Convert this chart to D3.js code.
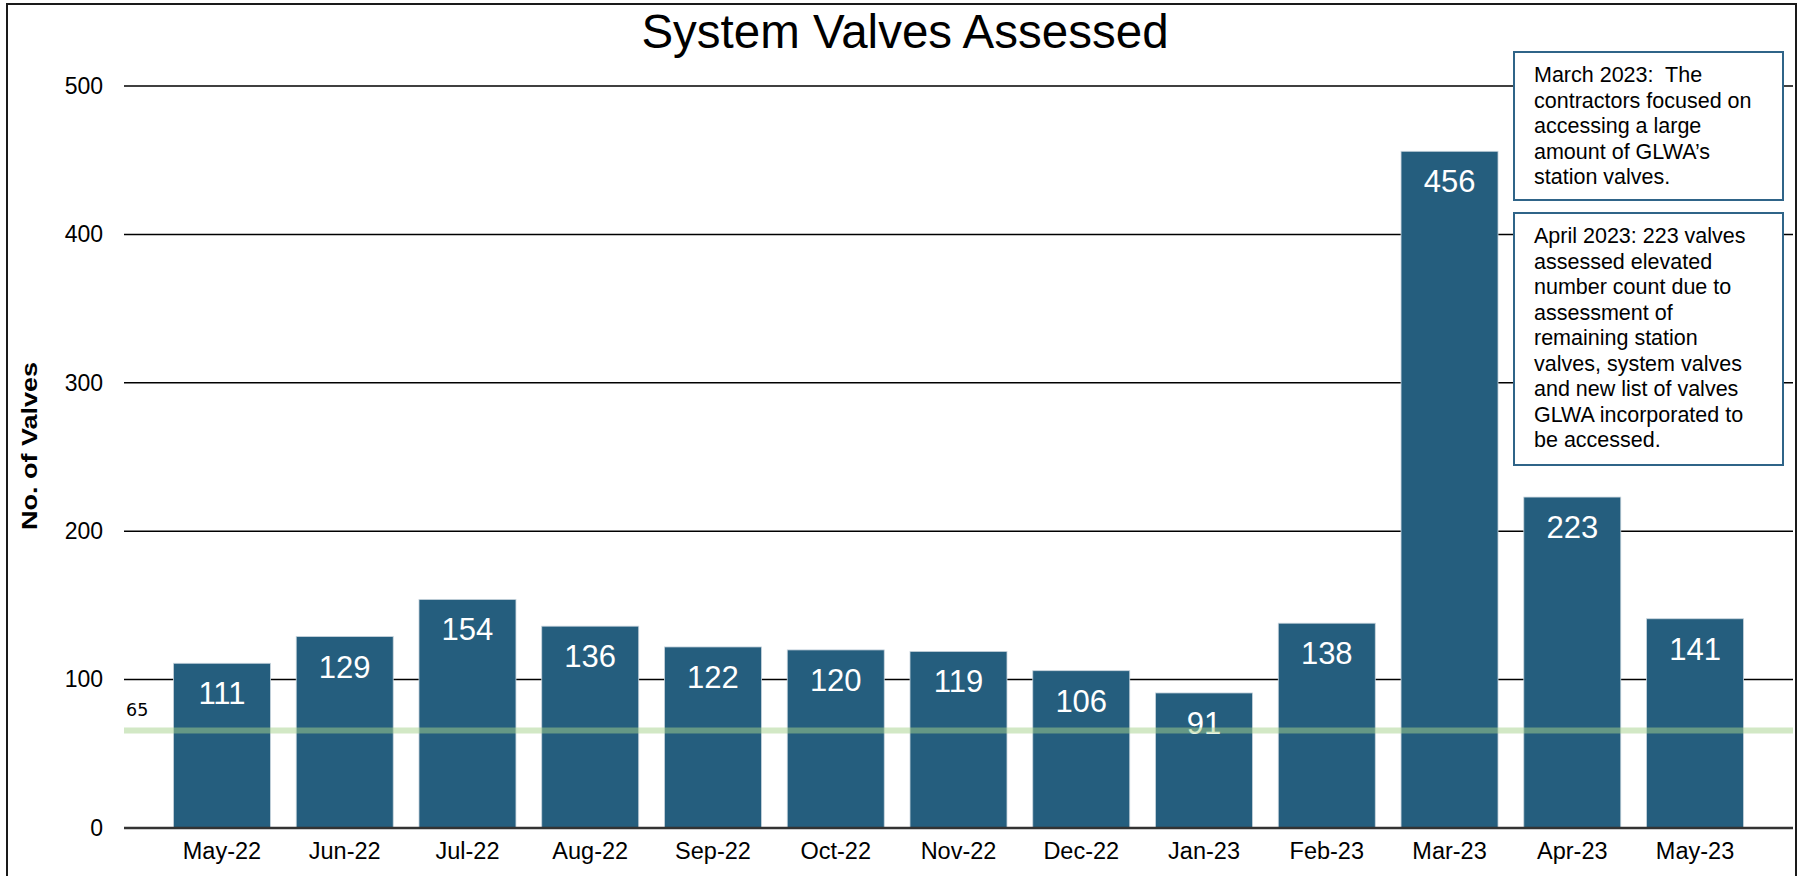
<!DOCTYPE html>
<html>
<head>
<meta charset="utf-8">
<script src="https://cdn.jsdelivr.net/npm/d3@7"></script>
<style>
  html, body { margin: 0; padding: 0; background: #fff; }
  svg { display: block; font-family: Arial, "Liberation Sans", sans-serif; }
</style>
</head>
<body>
<svg id="chart" width="1804" height="876"></svg>
<script>
const title = "System Valves Assessed";
const yAxisTitle = "No. of Valves";
const months = ["May-22","Jun-22","Jul-22","Aug-22","Sep-22","Oct-22","Nov-22","Dec-22","Jan-23","Feb-23","Mar-23","Apr-23","May-23"];
const valves = [111,129,154,136,122,120,119,106,91,138,456,223,141];
const yTicks = [0,100,200,300,400,500];
const targetValue = 65;
const note1 = ["March 2023:  The","contractors focused on","accessing a large","amount of GLWA\u2019s","station valves."];
const note2 = ["April 2023: 223 valves","assessed elevated","number count due to","assessment of","remaining station","valves, system valves","and new list of valves","GLWA incorporated to","be accessed."];

(function () {
const svg = d3.select("#chart");
const pLeft = 124, pRight = 1793, pTop = 86, pBottom = 828;

// frame
svg.append("rect").attr("x", 7).attr("y", 4).attr("width", 1789).attr("height", 880)
  .attr("fill", "none").attr("stroke", "#1a1a1a").attr("stroke-width", 2);

const x = d3.scaleBand().domain(months).range([pLeft, pRight]).paddingInner(0.21).paddingOuter(0.403);
const y = d3.scaleLinear().domain([0, 500]).range([pBottom, pTop]);

// gridlines
svg.append("g").selectAll("line").data(yTicks.filter(d => d > 0)).join("line")
  .attr("x1", pLeft).attr("x2", pRight)
  .attr("y1", d => y(d)).attr("y2", d => y(d))
  .attr("stroke", "#000").attr("stroke-width", 1.5);

// y axis labels
const yAxis = d3.axisLeft(y).tickValues(yTicks).tickSize(0).tickPadding(21);
const gy = svg.append("g").attr("transform", `translate(${pLeft},0)`).call(yAxis);
gy.select(".domain").remove();
gy.selectAll("text").attr("font-size", 23).attr("fill", "#000")
  .attr("font-family", "Arial, 'Liberation Sans', sans-serif");

// bars
svg.append("g").selectAll("rect").data(valves).join("rect")
  .attr("x", (d, i) => x(months[i]))
  .attr("width", x.bandwidth())
  .attr("y", d => y(d))
  .attr("height", d => y(0) - y(d))
  .attr("fill", "#255e7e")
  .attr("stroke", "#c8d4dd").attr("stroke-width", 0.8);

// zero axis line
svg.append("line").attr("x1", pLeft).attr("x2", pRight).attr("y1", y(0)).attr("y2", y(0))
  .attr("stroke", "#333").attr("stroke-width", 2.5);

// x axis labels
const xAxis = d3.axisBottom(x).tickSize(0).tickPadding(14);
const gx = svg.append("g").attr("transform", `translate(0,${y(0)})`).call(xAxis);
gx.select(".domain").remove();
gx.selectAll("text").attr("font-size", 23.5).attr("fill", "#000")
  .attr("font-family", "Arial, 'Liberation Sans', sans-serif");

// value labels
svg.append("g").selectAll("text").data(valves).join("text")
  .attr("x", (d, i) => x(months[i]) + x.bandwidth() / 2)
  .attr("y", d => y(d) + 41)
  .attr("text-anchor", "middle")
  .attr("font-size", 31).attr("fill", "#fff")
  .text(d => d);

// target line
svg.append("line").attr("x1", pLeft).attr("x2", pRight)
  .attr("y1", y(targetValue) - 1).attr("y2", y(targetValue) - 1)
  .attr("stroke", "#a6d18c").attr("stroke-opacity", 0.5).attr("stroke-width", 6);
svg.append("text").attr("x", pLeft + 2).attr("y", y(targetValue) - 16)
  .attr("font-family", "'DejaVu Sans', sans-serif").attr("font-size", 17.5).attr("fill", "#000")
  .text(targetValue);

// title
svg.append("text").attr("x", 905).attr("y", 48).attr("text-anchor", "middle")
  .attr("font-size", 47.5).attr("fill", "#000").text(title);

// y axis title
svg.append("text").attr("transform", "translate(37,446) rotate(-90)")
  .attr("text-anchor", "middle").attr("font-weight", "bold").attr("font-size", 21.5)
  .attr("textLength", 168).attr("lengthAdjust", "spacingAndGlyphs")
  .attr("fill", "#000").text(yAxisTitle);

// annotation boxes
function note(lines, bx, by, bw, bh, firstBaseline, lh) {
  svg.append("rect").attr("x", bx).attr("y", by).attr("width", bw).attr("height", bh)
    .attr("fill", "#fff").attr("stroke", "#2f6488").attr("stroke-width", 2);
  const t = svg.append("text").attr("font-size", 21.5).attr("fill", "#000")
    .style("white-space", "pre");
  lines.forEach((l, i) => {
    t.append("tspan").attr("x", bx + 20).attr("y", firstBaseline + i * lh).text(l);
  });
}
note(note1, 1514, 52, 269, 148, 82, 25.6);
note(note2, 1514, 213, 269, 252, 243, 25.5);
})();
</script>
</body>
</html>
